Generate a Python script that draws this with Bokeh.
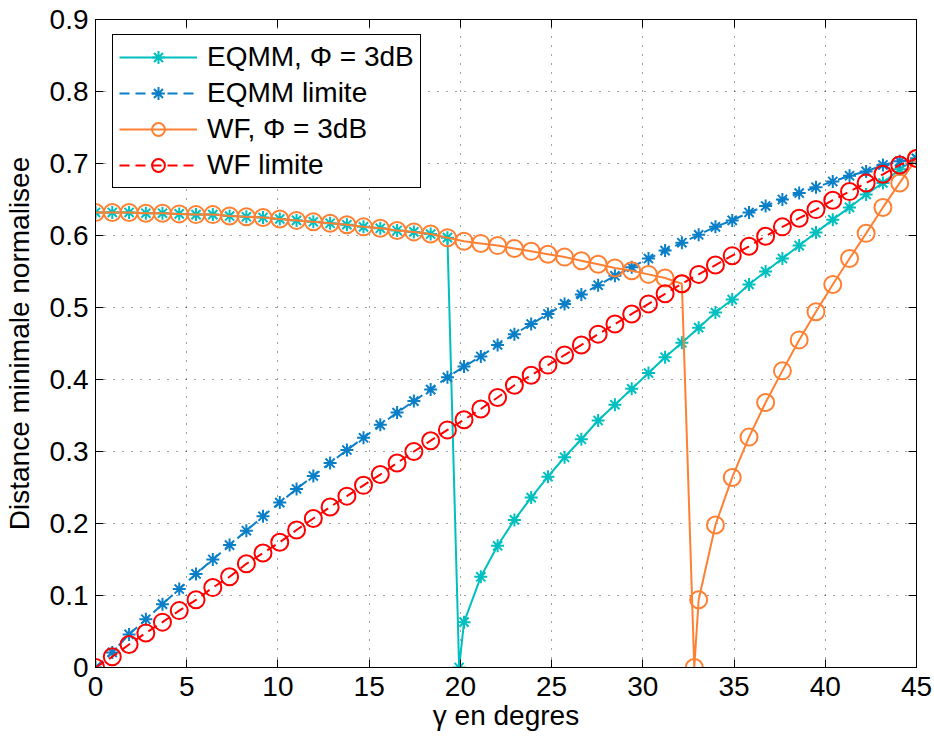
from bokeh.plotting import figure
from bokeh.models import (FixedTicker, LinearAxis, Legend, LegendItem, Range1d,
                          CustomJSTickFormatter)
from bokeh.embed import file_html
from bokeh.resources import INLINE

# ---------------- data ----------------
gamma = [0.00, 0.92, 1.84, 2.76, 3.67, 4.59, 5.51, 6.43, 7.35, 8.27,
         9.18, 10.10, 11.02, 11.94, 12.86, 13.78, 14.69, 15.61, 16.53, 17.45,
         18.37, 19.29, 20.20, 21.12, 22.04, 22.96, 23.88, 24.80, 25.71, 26.63,
         27.55, 28.47, 29.39, 30.31, 31.22, 32.14, 33.06, 33.98, 34.90, 35.82,
         36.73, 37.65, 38.57, 39.49, 40.41, 41.33, 42.24, 43.16, 44.08, 45.00]

eqmm_limite = [0.000, 0.021, 0.046, 0.067, 0.088, 0.109, 0.130, 0.150, 0.170, 0.190,
               0.210, 0.229, 0.248, 0.266, 0.284, 0.302, 0.319, 0.337, 0.354, 0.370,
               0.386, 0.403, 0.418, 0.432, 0.448, 0.463, 0.477, 0.491, 0.505, 0.518,
               0.531, 0.544, 0.556, 0.568, 0.579, 0.590, 0.601, 0.612, 0.621, 0.632,
               0.641, 0.650, 0.659, 0.667, 0.675, 0.683, 0.689, 0.698, 0.703, 0.707]

wf_limite = [0.000, 0.015, 0.032, 0.048, 0.063, 0.079, 0.094, 0.111, 0.126, 0.144,
             0.159, 0.174, 0.191, 0.207, 0.223, 0.238, 0.253, 0.268, 0.284, 0.300,
             0.315, 0.330, 0.344, 0.359, 0.375, 0.392, 0.406, 0.420, 0.434, 0.448,
             0.463, 0.477, 0.491, 0.505, 0.519, 0.533, 0.546, 0.559, 0.572, 0.585,
             0.599, 0.612, 0.624, 0.636, 0.649, 0.661, 0.673, 0.685, 0.698, 0.707]

eqmm_3db_x = [0.00, 0.92, 1.84, 2.76, 3.67, 4.59, 5.51, 6.43, 7.35, 8.27,
              9.18, 10.10, 11.02, 11.94, 12.86, 13.78, 14.69, 15.61, 16.53, 17.45,
              18.37, 19.29, 19.93, 20.20, 21.12, 22.04, 22.96, 23.88, 24.80, 25.71,
              26.63, 27.55, 28.47, 29.39, 30.31, 31.22, 32.14, 33.06, 33.98, 34.90,
              35.82, 36.73, 37.65, 38.57, 39.49, 40.41, 41.33, 42.24, 43.16, 44.08,
              45.00]
eqmm_3db_y = [0.632, 0.632, 0.632, 0.631, 0.631, 0.630, 0.629, 0.629, 0.627, 0.626,
              0.625, 0.623, 0.621, 0.619, 0.617, 0.615, 0.612, 0.610, 0.607, 0.605,
              0.602, 0.597, 0.000, 0.063, 0.126, 0.169, 0.205, 0.236, 0.265, 0.292,
              0.317, 0.343, 0.365, 0.387, 0.409, 0.431, 0.451, 0.472, 0.493, 0.511,
              0.532, 0.550, 0.568, 0.586, 0.604, 0.622, 0.639, 0.657, 0.673, 0.692,
              0.707]

wf_3db_x = [0.00, 0.92, 1.84, 2.76, 3.67, 4.59, 5.51, 6.43, 7.35, 8.27,
            9.18, 10.10, 11.02, 11.94, 12.86, 13.78, 14.69, 15.61, 16.53, 17.45,
            18.37, 19.29, 20.20, 21.12, 22.04, 22.96, 23.88, 24.80, 25.71, 26.63,
            27.55, 28.47, 29.39, 30.31, 31.22, 32.14, 32.82, 33.06, 33.98, 34.90,
            35.82, 36.73, 37.65, 38.57, 39.49, 40.41, 41.33, 42.24, 43.16, 44.08,
            45.00]
wf_3db_y = [0.632, 0.632, 0.632, 0.631, 0.631, 0.630, 0.629, 0.629, 0.627, 0.626,
            0.625, 0.623, 0.621, 0.619, 0.617, 0.615, 0.612, 0.610, 0.607, 0.605,
            0.602, 0.597, 0.592, 0.589, 0.586, 0.582, 0.578, 0.574, 0.570, 0.565,
            0.560, 0.555, 0.551, 0.546, 0.541, 0.533, 0.000, 0.094, 0.198, 0.264,
            0.320, 0.368, 0.412, 0.455, 0.494, 0.532, 0.568, 0.603, 0.639, 0.673,
            0.707]

x_ticks = [0, 5, 10, 15, 20, 25, 30, 35, 40, 45]
y_ticks = [0, 0.1, 0.2, 0.3, 0.4, 0.5, 0.6, 0.7, 0.8, 0.9]
y_tick_labels = ["0", "0.1", "0.2", "0.3", "0.4", "0.5", "0.6", "0.7", "0.8", "0.9"]
series_names = ["EQMM, \u03a6 = 3dB", "EQMM limite", "WF, \u03a6 = 3dB", "WF limite"]

# ---------------- style ----------------
FONT = "Liberation Sans"
C_CYAN = "#00BFBF"
C_BLUE = "#0A7FC8"
C_ORANGE = "#FF8033"
C_RED = "#FF0000"

p = figure(width=934, height=740,
           x_range=Range1d(0, 45), y_range=Range1d(0, 0.9),
           output_backend="svg", toolbar_location=None,
           min_border_left=95, min_border_right=18,
           min_border_top=19, min_border_bottom=73)
p.background_fill_color = "white"
p.border_fill_color = "white"
p.outline_line_color = "black"
p.outline_line_width = 1
p.outline_line_alpha = 1

# grid
for g, t in ((p.xgrid, x_ticks), (p.ygrid, y_ticks)):
    g.ticker = FixedTicker(ticks=t)
    g.grid_line_color = "#000000"
    g.grid_line_alpha = 0.75
    g.grid_line_width = 1
    g.grid_line_dash = "1 8"

# axes
p.xaxis.ticker = FixedTicker(ticks=x_ticks)
p.yaxis.ticker = FixedTicker(ticks=y_ticks)
p.yaxis.major_label_overrides = {t: l for t, l in zip(y_ticks, y_tick_labels)}
p.xaxis.axis_label = "\u03b3 en degres"
p.yaxis.axis_label = "Distance minimale normalisee"
for ax in (p.xaxis[0], p.yaxis[0]):
    ax.major_label_text_font = FONT
    ax.major_label_text_font_size = "28px"
    ax.major_label_text_color = "black"
    ax.axis_label_text_font = FONT
    ax.axis_label_text_font_size = "28px"
    ax.axis_label_text_font_style = "normal"
    ax.axis_label_text_color = "black"
    ax.axis_line_color = "black"
    ax.major_tick_line_color = "black"
    ax.major_tick_in = 8
    ax.major_tick_out = 0
    ax.minor_tick_line_color = None
p.xaxis.major_label_standoff = 9
p.xaxis.axis_label_standoff = 1
p.yaxis.major_label_standoff = 7
p.yaxis.axis_label_standoff = 12

# mirrored axes (box with ticks on top and right), no labels
top_ax = LinearAxis(ticker=FixedTicker(ticks=x_ticks))
right_ax = LinearAxis(ticker=FixedTicker(ticks=y_ticks))
for ax in (top_ax, right_ax):
    ax.formatter = CustomJSTickFormatter(code="return ''")
    ax.major_label_standoff = 0
    ax.major_tick_in = 8
    ax.major_tick_out = 0
    ax.minor_tick_line_color = None
    ax.axis_line_color = "black"
    ax.major_tick_line_color = "black"
p.add_layout(top_ax, "above")
p.add_layout(right_ax, "right")

# ---------------- series ----------------
l1 = p.line(eqmm_3db_x, eqmm_3db_y, line_color=C_CYAN, line_width=2)
m1 = p.scatter(eqmm_3db_x, eqmm_3db_y, marker="asterisk", size=13,
               line_color=C_CYAN, line_width=2)

l2 = p.line(gamma, eqmm_limite, line_color=C_BLUE, line_width=2, line_dash="10 6")
m2 = p.scatter(gamma, eqmm_limite, marker="asterisk", size=13,
               line_color=C_BLUE, line_width=2)

l3 = p.line(wf_3db_x, wf_3db_y, line_color=C_ORANGE, line_width=2)
m3 = p.scatter(wf_3db_x, wf_3db_y, marker="circle", size=17, fill_color=None,
               line_color=C_ORANGE, line_width=2)

l4 = p.line(gamma, wf_limite, line_color=C_RED, line_width=2, line_dash="10 6")
m4 = p.scatter(gamma, wf_limite, marker="circle", size=17, fill_color=None,
               line_color=C_RED, line_width=2)

legend = Legend(items=[
    LegendItem(label=series_names[0], renderers=[l1, m1]),
    LegendItem(label=series_names[1], renderers=[l2, m2]),
    LegendItem(label=series_names[2], renderers=[l3, m3]),
    LegendItem(label=series_names[3], renderers=[l4, m4]),
], location=(17, 479))
legend.label_text_font = FONT
legend.label_text_font_size = "28px"
legend.label_text_color = "black"
legend.label_height = 32
legend.glyph_height = 32
legend.glyph_width = 78
legend.label_standoff = 10
legend.spacing = 4
legend.padding = 6
legend.margin = 0
legend.border_line_color = "black"
legend.border_line_width = 1
legend.border_line_alpha = 1
legend.background_fill_color = "white"
legend.background_fill_alpha = 1
p.add_layout(legend)

open("out.html", "w").write(file_html(p, INLINE))
